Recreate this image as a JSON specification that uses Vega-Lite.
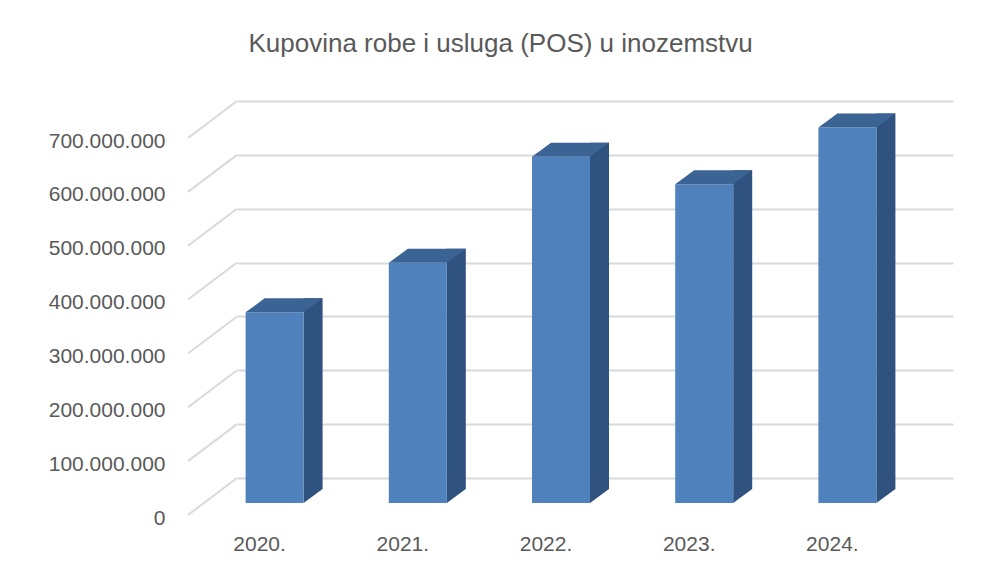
{
  "$schema": "https://vega.github.io/schema/vega-lite/v6.json",
  "width": 716,
  "height": 377,
  "autosize": {"type": "none"},
  "padding": {"left": 237, "top": 101, "right": 45, "bottom": 103},
  "background": "white",
  "config": {
    "view": {"stroke": null},
    "locale": {"number": {"decimal": ",", "thousands": ".", "grouping": [3], "currency": ["", " €"]}}
  },
  "title": {
    "text": "Kupovina robe i usluga (POS) u inozemstvu",
    "font": "Liberation Sans",
    "fontSize": 26,
    "fontWeight": "normal",
    "color": "#595959",
    "anchor": "middle",
    "frame": "bounds",
    "offset": 40
  },
  "data": {
    "values": [
      {"year": "2020.", "value": 354000000},
      {"year": "2021.", "value": 446000000},
      {"year": "2022.", "value": 643000000},
      {"year": "2023.", "value": 592000000},
      {"year": "2024.", "value": 697000000}
    ]
  },
  "layer": [
    {
      "data": {"values": [{"t": 0}, {"t": 100000000}, {"t": 200000000}, {"t": 300000000}, {"t": 400000000}, {"t": 500000000}, {"t": 600000000}, {"t": 700000000}]},
      "mark": {"type": "point", "shape": "M0,0L-49,37", "size": 4, "filled": false, "stroke": "#d9d9d9", "strokeWidth": 2, "opacity": 1},
      "encoding": {
        "x": {"datum": "2020.", "type": "nominal", "bandPosition": 0},
        "y": {"field": "t", "type": "quantitative"}
      }
    },
    {
      "mark": {"type": "bar", "color": "#30527f", "width": 19, "xOffset": 4.5, "yOffset": 11, "y2Offset": 11},
      "encoding": {
        "x": {
          "field": "year", "type": "nominal", "sort": null,
          "scale": {"paddingInner": 0, "paddingOuter": 0},
          "axis": {"title": null, "labelFont": "Liberation Sans", "labelFontSize": 21, "labelColor": "#595959", "labelAlign": "center", "labelOffset": -49, "labelPadding": 66, "ticks": false, "domain": false, "grid": false, "labelAngle": 0}
        },
        "y": {
          "field": "value", "type": "quantitative",
          "scale": {"domain": [0, 700000000], "nice": false},
          "axis": {"title": null, "values": [0, 100000000, 200000000, 300000000, 400000000, 500000000, 600000000, 700000000], "format": ",d", "labelFont": "Liberation Sans", "labelFontSize": 21, "labelColor": "#595959", "labelPadding": 72, "labelOffset": 40, "labelOverlap": false, "ticks": false, "domain": false, "grid": true, "gridColor": "#d9d9d9", "gridWidth": 2}
        },
        "y2": {"datum": 0}
      }
    },
    {
      "mark": {"type": "point", "shape": "M-5,11L14,11L-5,25Z", "size": 4, "filled": true, "fill": "#30527f", "strokeWidth": 0, "opacity": 1},
      "encoding": {
        "x": {"field": "year", "type": "nominal", "sort": null},
        "y": {"datum": 0, "type": "quantitative"}
      }
    },
    {
      "mark": {"type": "bar", "color": "#4f81bd", "width": 58, "xOffset": -34, "yOffset": 25, "y2Offset": 25},
      "encoding": {
        "x": {"field": "year", "type": "nominal", "sort": null},
        "y": {"field": "value", "type": "quantitative"},
        "y2": {"datum": 0}
      }
    },
    {
      "mark": {"type": "point", "shape": "M-63,25L-5,25L14,11L-44,11Z", "size": 4, "filled": true, "fill": "#3b6495", "strokeWidth": 0, "opacity": 1},
      "encoding": {
        "x": {"field": "year", "type": "nominal", "sort": null},
        "y": {"field": "value", "type": "quantitative"}
      }
    }
  ]
}
